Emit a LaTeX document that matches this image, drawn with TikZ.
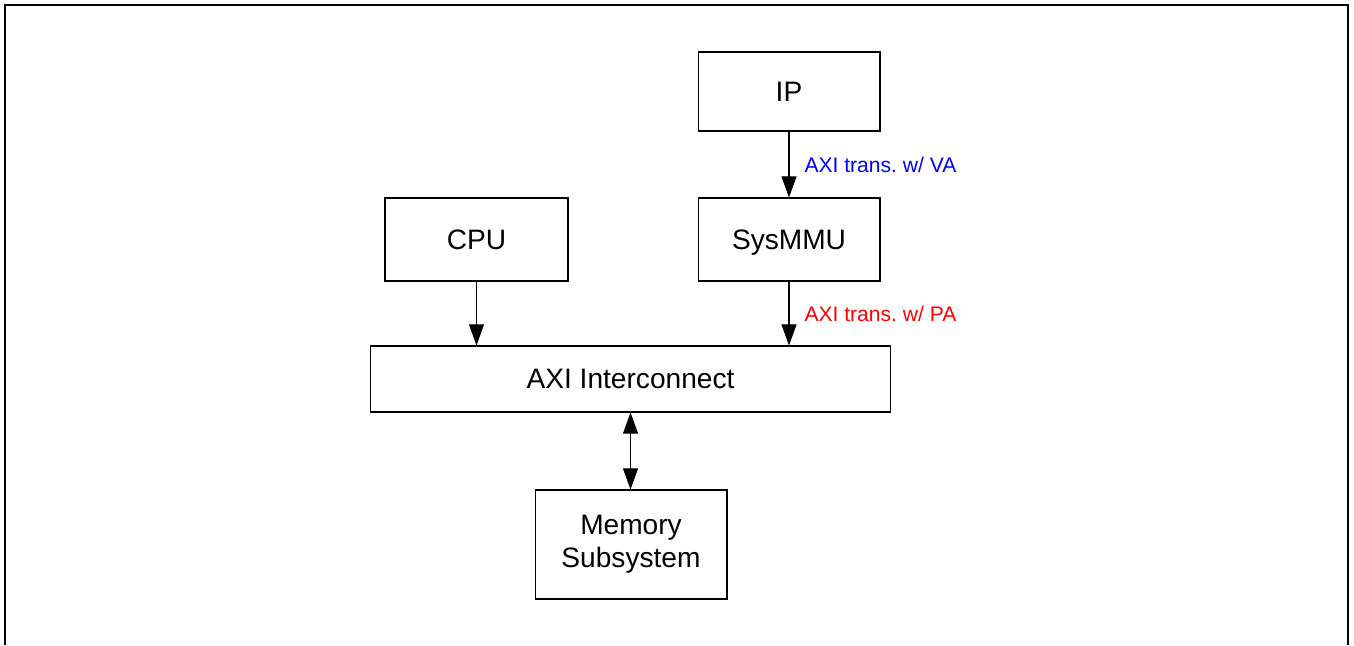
\documentclass[tikz,border=0pt]{standalone}
\usepackage{fontspec}
\setmainfont{Liberation Sans}
\usepackage{tikz}
\usetikzlibrary{arrows.meta,positioning,calc}
\tikzset{
  blk/.style={draw, line width=0.6pt, align=center, inner sep=2pt, font=\fontsize{16}{19}\selectfont},
  arr/.style={draw, line width=0.6pt, -{Triangle[length=12pt, width=8.5pt]}},
  biarr/.style={draw, line width=0.6pt, {Triangle[length=12pt, width=8.5pt]}-{Triangle[length=12pt, width=8.5pt]}},
  lbl/.style={font=\fontsize{12}{14}\selectfont, inner sep=0pt, anchor=west, xshift=0.3cm}
}
\frenchspacing

\begin{document}
\begin{tikzpicture}[x=0.02cm, y=-0.02cm]
\useasboundingbox (0,0) rectangle (1354,645);
% outer frame, open at the bottom
\draw[line width=1.2pt] (5,645) -- (5,5) -- (1348,5) -- (1348,645);

\node[blk, minimum width=3.64cm, minimum height=1.58cm] (ip) at (789,91.5) {IP};
\node[blk, minimum width=3.64cm, minimum height=1.66cm, text depth=0pt] (mmu) at (789,239.5) {SysMMU};
\node[blk, minimum width=3.66cm, minimum height=1.66cm] (cpu) at (476.5,239.5) {CPU};
\node[blk, minimum width=10.42cm, minimum height=1.32cm] (axi) at (630.5,379) {AXI Interconnect};
\node[blk, minimum width=3.84cm, minimum height=2.18cm] (mem) at (631,544.5) {Memory\\Subsystem};

\draw[arr] (ip) -- node[lbl, text={rgb,255:red,0;green,0;blue,255}] {AXI trans. w/ VA} (mmu);
\draw[arr] (mmu.south) -- node[lbl, text={rgb,255:red,255;green,0;blue,0}] {AXI trans. w/ PA} (mmu.south |- axi.north);
\draw[arr] (cpu.south) -- (cpu.south |- axi.north);
\draw[biarr] (axi.south) -- (axi.south |- mem.north);
\end{tikzpicture}
\end{document}
